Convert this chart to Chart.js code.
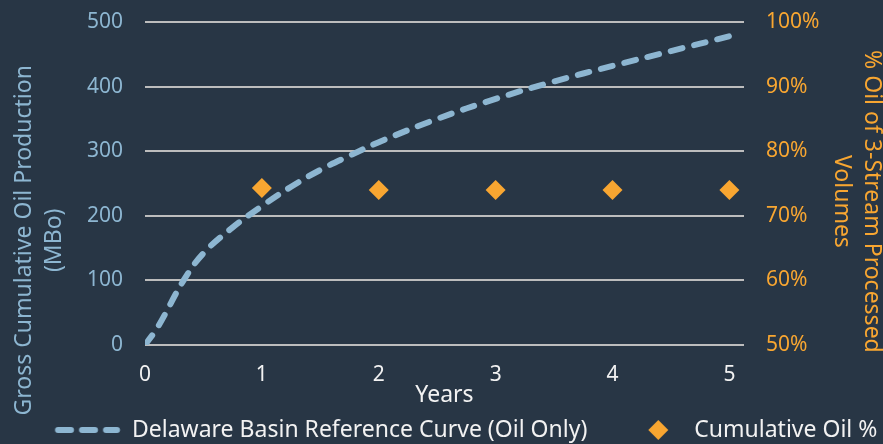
<!DOCTYPE html>
<html>
<head>
<meta charset="utf-8">
<script src="https://cdn.jsdelivr.net/npm/chart.js@4.4.1/dist/chart.umd.min.js"></script>
<style>
  html, body { margin: 0; padding: 0; background: #283645; }
  #wrap { width: 883px; height: 444px; }
</style>
</head>
<body>
<div id="wrap"><canvas id="chart"></canvas></div>
<script>
// 数据
const curveYears = [0, 0.11, 0.33, 0.5, 0.75, 1, 1.25, 1.5, 1.75, 2, 2.5, 3, 3.5, 4, 4.5, 5];
const curveMBo   = [0, 28, 100, 142, 182, 215, 245, 271, 293, 314, 350, 381, 408, 432, 455, 478];
const oilYears   = [1, 2, 3, 4, 5];
const oilPct     = [74.3, 74.0, 74.0, 74.0, 74.0];
const xTicks     = [0, 1, 2, 3, 4, 5];
const leftTicks  = [0, 100, 200, 300, 400, 500];
const rightTicks = [50, 60, 70, 80, 90, 100];

const BG = '#283645';
const BLUE = '#8db6d1';
const ORANGE = '#f8a631';
const GRID = '#bdbdbd';
const WHITE = '#f2f2f2';

Chart.defaults.font.family = "'Noto Sans', sans-serif";
Chart.defaults.font.size = 21;

const LEGEND_PAD = 10;
const LEGEND_BOX = 85.5;
const LEGEND_FONT = 23;

// 图例里的虚线样例
function dashSample() {
    const c = document.createElement('canvas');
    c.width = 86; c.height = 10;
    const g = c.getContext('2d');
    g.strokeStyle = BLUE;
    g.lineWidth = 6;
    g.lineCap = 'round';
    g.setLineDash([13, 11]);
    g.beginPath();
    g.moveTo(23.25, 5);
    g.lineTo(82.25, 5);
    g.stroke();
    return c;
}

// 图例里的菱形
function diamondSample() {
    const c = document.createElement('canvas');
    c.width = 60; c.height = 22;
    const g = c.getContext('2d');
    const cx = 48.25, cy = 11, r = 10;
    g.fillStyle = ORANGE;
    g.beginPath();
    g.moveTo(cx, cy - r);
    g.lineTo(cx + r, cy);
    g.lineTo(cx, cy + r);
    g.lineTo(cx - r, cy);
    g.closePath();
    g.fill();
    return c;
}

const bgPlugin = {
    id: 'bg',
    beforeDraw(chart) {
        const ctx = chart.ctx;
        ctx.save();
        ctx.fillStyle = BG;
        ctx.fillRect(0, 0, chart.width, chart.height);
        ctx.restore();
    }
};

// 图例整体往右、往下挪一点
const legendShift = {
    id: 'legendShift',
    afterLayout(chart) {
        const lg = chart.legend;
        if (!lg || !lg.lineWidths) return;
        const start = (lg.left + LEGEND_PAD + lg.right - lg.lineWidths[0]) / 2;
        const dx = 132 - (start + LEGEND_BOX + LEGEND_FONT / 2);
        lg.left += dx; lg.right += dx;
        lg.top += 7.5; lg.bottom += 7.5;
    }
};

// 轴标题不在轴中间，用空格把它往下推
const pad = n => ' '.repeat(n);

new Chart(document.getElementById('chart'), {
    data: {
        datasets: [
            {
                type: 'line',
                label: 'Delaware Basin Reference Curve (Oil Only)',
                data: curveYears.map((x, i) => ({ x: x, y: curveMBo[i] })),
                borderColor: BLUE,
                borderWidth: 6,
                borderDash: [12, 12],
                borderCapStyle: 'round',
                pointRadius: 0,
                tension: 0.4,
                yAxisID: 'y',
                order: 2
            },
            {
                type: 'scatter',
                label: 'Cumulative Oil %',
                data: oilYears.map((x, i) => ({ x: x, y: oilPct[i] })),
                pointStyle: 'rectRot',
                pointRadius: 10,
                backgroundColor: ORANGE,
                borderColor: ORANGE,
                borderWidth: 0,
                yAxisID: 'y1',
                order: 1
            }
        ]
    },
    options: {
        responsive: true,
        maintainAspectRatio: false,
        animation: false,
        layout: { padding: { top: 22, left: 0, right: 0, bottom: 0 } },
        plugins: {
            tooltip: { enabled: false },
            legend: {
                position: 'bottom',
                labels: {
                    color: WHITE,
                    font: { size: LEGEND_FONT },
                    usePointStyle: true,
                    pointStyleWidth: LEGEND_BOX,
                    padding: LEGEND_PAD,
                    generateLabels: () => [
                        { text: 'Delaware Basin Reference Curve (Oil Only)', pointStyle: dashSample(), fontColor: WHITE, lineWidth: 0, datasetIndex: 0 },
                        { text: 'Cumulative Oil %', pointStyle: diamondSample(), fontColor: WHITE, lineWidth: 0, datasetIndex: 1 }
                    ]
                }
            }
        },
        scales: {
            x: {
                type: 'linear',
                min: 0,
                max: 5.125,
                afterBuildTicks: s => { s.ticks = xTicks.map(v => ({ value: v })); },
                grid: { display: false, drawTicks: false },
                border: { display: false },
                ticks: { color: WHITE, padding: 17 },
                title: { display: true, text: 'Years', color: WHITE, font: { size: 23 }, padding: { top: -23, bottom: -7.8 } }
            },
            y: {
                position: 'left',
                min: 0,
                max: 500,
                afterBuildTicks: s => { s.ticks = leftTicks.map(v => ({ value: v })); },
                afterFit: s => { s.width = 145; s.paddingTop = 0; s.paddingBottom = 0; },
                grid: { color: GRID, lineWidth: 2, drawTicks: false },
                border: { display: false },
                ticks: { color: BLUE, padding: 22 },
                title: {
                    display: true,
                    text: ['Gross Cumulative Oil Production' + pad(19), '(MBo)' + pad(19)],
                    color: BLUE,
                    font: { size: 23, lineHeight: 1.3 },
                    padding: { top: 9.5, bottom: 0 }
                }
            },
            y1: {
                position: 'right',
                min: 50,
                max: 100,
                afterBuildTicks: s => { s.ticks = rightTicks.map(v => ({ value: v })); },
                afterFit: s => { s.width = 139; s.paddingTop = 0; s.paddingBottom = 0; },
                grid: { display: false, drawTicks: false },
                border: { display: false },
                ticks: { color: ORANGE, padding: 22, callback: v => v + '%' },
                title: {
                    display: true,
                    text: [pad(6) + '% Oil of 3-Stream Processed', pad(6) + 'Volumes'],
                    color: ORANGE,
                    font: { size: 23, lineHeight: 1.3 },
                    padding: { top: -3, bottom: 0 }
                }
            }
        }
    },
    plugins: [bgPlugin, legendShift]
});
</script>
</body>
</html>
